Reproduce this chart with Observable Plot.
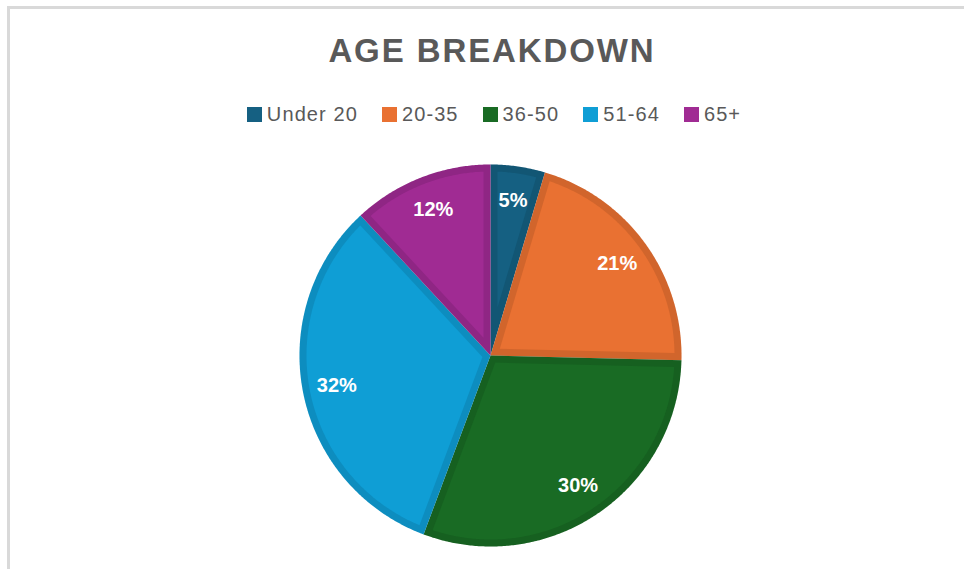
<!DOCTYPE html>
<html>
<head>
<meta charset="utf-8">
<script src="https://cdn.jsdelivr.net/npm/d3@7"></script>
<script src="https://cdn.jsdelivr.net/npm/@observablehq/plot@0.6"></script>
<style>
  html, body { margin: 0; padding: 0; width: 964px; height: 569px; overflow: hidden; background: #fff;
    font-family: "Liberation Sans", Arial, sans-serif; }
  #frame { position: absolute; left: 7px; top: 6px; width: 1000px; height: 700px;
    border-left: 3px solid #d9d9d9; border-top: 3px solid #d9d9d9; }
  #title { position: absolute; top: 34px; left: 10px; width: 964px; text-align: center; font-weight: bold;
    font-size: 33px; line-height: 33px; letter-spacing: 1.9px; color: #595959; }
  #legend { position: absolute; top: 104px; left: 12px; width: 964px; display: flex; justify-content: center;
    align-items: center; font-size: 20px; line-height: 20px; letter-spacing: 1.1px; color: #595959; }
  .item { display: flex; align-items: center; margin: 0 12px; }
  .sw { width: 15px; height: 15px; margin-right: 5px; }
  #chart { position: absolute; left: 0; top: 140px; }
</style>
</head>
<body>
<div id="frame"></div>
<div id="title">AGE BREAKDOWN</div>
<div id="legend"></div>
<div id="chart"></div>
<script>
const categories = ["Under 20", "20-35", "36-50", "51-64", "65+"];
const values = [4.6, 20.8, 30.3, 32.4, 11.9];
const colors = ["#156082", "#E97132", "#196B24", "#0F9ED5", "#A02B93"];

const W = 964, H = 429, CX = 490, CY = 215, R = 191, BAND = 7;

const rows = categories.map((key, i) => ({key, value: values[i]}));
const total = d3.sum(values);
const arcs = d3.pie().sort(null).value(d => d.value)(rows);

const step = Math.PI / 360;
function arcPts(r, a0, a1) {
  const n = Math.max(2, Math.ceil((a1 - a0) / step));
  const pts = [];
  for (let k = 0; k <= n; k++) {
    const a = a0 + (a1 - a0) * k / n;
    pts.push([r * Math.sin(a), r * Math.cos(a)]);
  }
  return pts;
}

const outer = [], inner = [], labels = [];
for (const a of arcs) {
  const key = a.data.key;
  const o = [[0, 0], ...arcPts(R, a.startAngle, a.endAngle), [0, 0]];
  o.forEach(([x, y]) => outer.push({key, x, y}));
  // inset polygon (lighter face inside the darker border band)
  const half = (a.endAngle - a.startAngle) / 2, mid = (a.startAngle + a.endAngle) / 2;
  const s = BAND / Math.sin(half);
  const A = [s * Math.sin(mid), s * Math.cos(mid)];
  const rr = R - BAND;
  const edgeAngle = (ang) => {
    const u = [Math.sin(ang), Math.cos(ang)];
    const b = A[0] * u[0] + A[1] * u[1];
    const c = A[0] * A[0] + A[1] * A[1] - rr * rr;
    const t = -b + Math.sqrt(b * b - c);
    const P = [A[0] + t * u[0], A[1] + t * u[1]];
    return Math.atan2(P[0], P[1]);
  };
  let b0 = edgeAngle(a.startAngle), b1 = edgeAngle(a.endAngle);
  while (b0 < a.startAngle - 1) b0 += 2 * Math.PI;
  while (b1 < b0) b1 += 2 * Math.PI;
  const ip = [A, ...arcPts(rr, b0, b1), A];
  ip.forEach(([x, y]) => inner.push({key, x, y}));
  const lr = R * 0.82;
  labels.push({key, x: lr * Math.sin(mid), y: lr * Math.cos(mid),
    text: d3.format(".0%")(a.data.value / total)});
}

const color = {domain: categories, range: colors};

const plot = Plot.plot({
  width: W, height: H,
  margin: 0,
  x: {domain: [-CX, W - CX], axis: null},
  y: {domain: [-(H - CY), CY], axis: null},
  color,
  marks: [
    Plot.line(outer, {x: "x", y: "y", z: "key", fill: "key", stroke: "none", curve: "linear"}),
    Plot.line(outer, {x: "x", y: "y", z: "key", fill: "black", fillOpacity: 0.1, stroke: "none", curve: "linear"}),
    Plot.line(inner, {x: "x", y: "y", z: "key", fill: "key", stroke: "none", curve: "linear"}),
    Plot.text(labels, {x: "x", y: "y", text: "text", fill: "white", fontSize: 20, fontWeight: "bold",
      fontFamily: "Liberation Sans, Arial, sans-serif"})
  ]
});
document.getElementById("chart").appendChild(plot);

// legend drawn from the same color scale
const scale = plot.scale("color");
const lg = d3.select("#legend");
categories.forEach(c => {
  const it = lg.append("div").attr("class", "item");
  it.append("div").attr("class", "sw").style("background", scale.apply(c));
  it.append("span").text(c);
});
</script>
</body>
</html>
